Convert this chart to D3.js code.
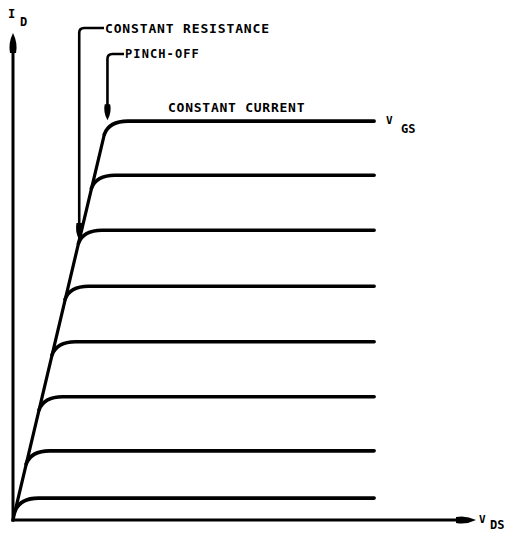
<!DOCTYPE html>
<html>
<head>
<meta charset="utf-8">
<script src="https://cdn.jsdelivr.net/npm/d3@7"></script>
<style>
  body { margin: 0; background: #fff; }
  svg text { font-family: "DejaVu Sans Mono", monospace; font-weight: bold; fill: #000; }
</style>
</head>
<body>
<div id="chart"></div>
<script>
// drain current level of each V_GS curve (saturation region), arbitrary units
const levelsId = [0.45, 1.42, 2.53, 3.66, 4.8, 5.95, 7.08, 8.19];
// V_DS where each curve reaches pinch-off (on the constant resistance line)
const kneeVds = [0.11, 0.35, 0.63, 0.91, 1.19, 1.48, 1.76, 2.04];
// where the flat parts stop
const vdsEnd = 7.8;
const labels = {
    resistance: "CONSTANT RESISTANCE",
    pinch: "PINCH-OFF",
    current: "CONSTANT CURRENT"
};

const W = 513, H = 533;

const svg = d3.select("#chart")
    .append("svg")
    .attr("width", W)
    .attr("height", H);

const x = d3.scaleLinear().domain([0, 10]).range([13, 476]);
const y = d3.scaleLinear().domain([0, 10]).range([520, 33]);

// knee size in data units
const dI = 0.27, dV = 0.44;

const topIdx = levelsId.length - 1;

// axes
svg.append("line")
    .attr("x1", x(0)).attr("y1", y(0) + 1.5)
    .attr("x2", x(0)).attr("y2", y(10) + 14)
    .attr("stroke", "#000").attr("stroke-width", 3);
svg.append("line")
    .attr("x1", x(0) - 1.5).attr("y1", y(0))
    .attr("x2", x(10) - 14).attr("y2", y(0))
    .attr("stroke", "#000").attr("stroke-width", 3);

const arrowHead = (tx, ty, dir, len, half) => {
    // dir: "up" or "right" or "down"
    let p = d3.path();
    if (dir === "up") {
        p.moveTo(tx, ty);
        p.quadraticCurveTo(tx + half, ty + len * 0.5, tx + half * 0.6, ty + len);
        p.lineTo(tx - half * 0.6, ty + len);
        p.quadraticCurveTo(tx - half, ty + len * 0.5, tx, ty);
    } else if (dir === "down") {
        p.moveTo(tx, ty);
        p.quadraticCurveTo(tx + half, ty - len * 0.5, tx + half * 0.6, ty - len);
        p.lineTo(tx - half * 0.6, ty - len);
        p.quadraticCurveTo(tx - half, ty - len * 0.5, tx, ty);
    } else {
        p.moveTo(tx, ty);
        p.quadraticCurveTo(tx - len * 0.5, ty - half, tx - len, ty - half * 0.6);
        p.lineTo(tx - len, ty + half * 0.6);
        p.quadraticCurveTo(tx - len * 0.5, ty + half, tx, ty);
    }
    p.closePath();
    svg.append("path").attr("d", p.toString()).attr("fill", "#000");
};

arrowHead(x(0), y(10), "up", 20, 5);
arrowHead(x(10), y(0), "right", 20, 5);

// constant resistance line, from origin to the knee of the top curve
const branchV = i => kneeVds[i] * (levelsId[i] - dI) / levelsId[i];
svg.append("line")
    .attr("x1", x(0)).attr("y1", y(0))
    .attr("x2", x(branchV(topIdx))).attr("y2", y(levelsId[topIdx] - dI))
    .attr("stroke", "#000").attr("stroke-width", 3.2)
    .attr("stroke-linecap", "round");

// V_GS curves
levelsId.forEach((level, i) => {
    let p = d3.path();
    p.moveTo(x(branchV(i)), y(level - dI));
    p.quadraticCurveTo(x(kneeVds[i] + 0.04), y(level), x(kneeVds[i] + dV), y(level));
    p.lineTo(x(vdsEnd), y(level));
    svg.append("path")
        .attr("d", p.toString())
        .attr("fill", "none")
        .attr("stroke", "#000")
        .attr("stroke-width", 3.6)
        .attr("stroke-linecap", "round");
});

// annotation: constant resistance
const crI = levelsId[5] - 0.2;
const crX = x(kneeVds[5] * crI / levelsId[5]);
const crTip = y(crI);
let crPath = d3.path();
crPath.moveTo(crX, crTip - 14);
crPath.lineTo(crX, 33);
crPath.quadraticCurveTo(crX, 28, crX + 5, 28);
crPath.lineTo(104, 28);
svg.append("path").attr("d", crPath.toString())
    .attr("fill", "none").attr("stroke", "#000").attr("stroke-width", 2.6);
arrowHead(crX, crTip, "down", 17, 4.5);
svg.append("text").attr("x", 105).attr("y", 33)
    .style("font-size", "13px").style("letter-spacing", "0.85px")
    .text(labels.resistance);

// annotation: pinch-off
const poX = x(kneeVds[topIdx]);
const poTip = y(levelsId[topIdx]) - 1;
let poPath = d3.path();
poPath.moveTo(poX, poTip - 14);
poPath.lineTo(poX, 59);
poPath.quadraticCurveTo(poX, 54, poX + 5, 54);
poPath.lineTo(124, 54);
svg.append("path").attr("d", poPath.toString())
    .attr("fill", "none").attr("stroke", "#000").attr("stroke-width", 2.6);
arrowHead(poX, poTip, "down", 16, 4.5);
svg.append("text").attr("x", 125).attr("y", 58)
    .style("font-size", "12px").style("letter-spacing", "1.1px")
    .text(labels.pinch);

// constant current label
svg.append("text").attr("x", 168).attr("y", 111.5)
    .style("font-size", "13px").style("letter-spacing", "0.75px")
    .text(labels.current);

// axis labels
svg.append("text").attr("x", 8).attr("y", 18)
    .style("font-size", "12px").text("I");
svg.append("text").attr("x", 20).attr("y", 26)
    .style("font-size", "12px").text("D");

svg.append("text").attr("x", 386).attr("y", 124)
    .style("font-size", "11px").text("V");
svg.append("text").attr("x", 401).attr("y", 133)
    .style("font-size", "12px").text("GS");

svg.append("text").attr("x", 479).attr("y", 523)
    .style("font-size", "11px").text("V");
svg.append("text").attr("x", 490).attr("y", 529)
    .style("font-size", "12px").text("DS");
</script>
</body>
</html>
